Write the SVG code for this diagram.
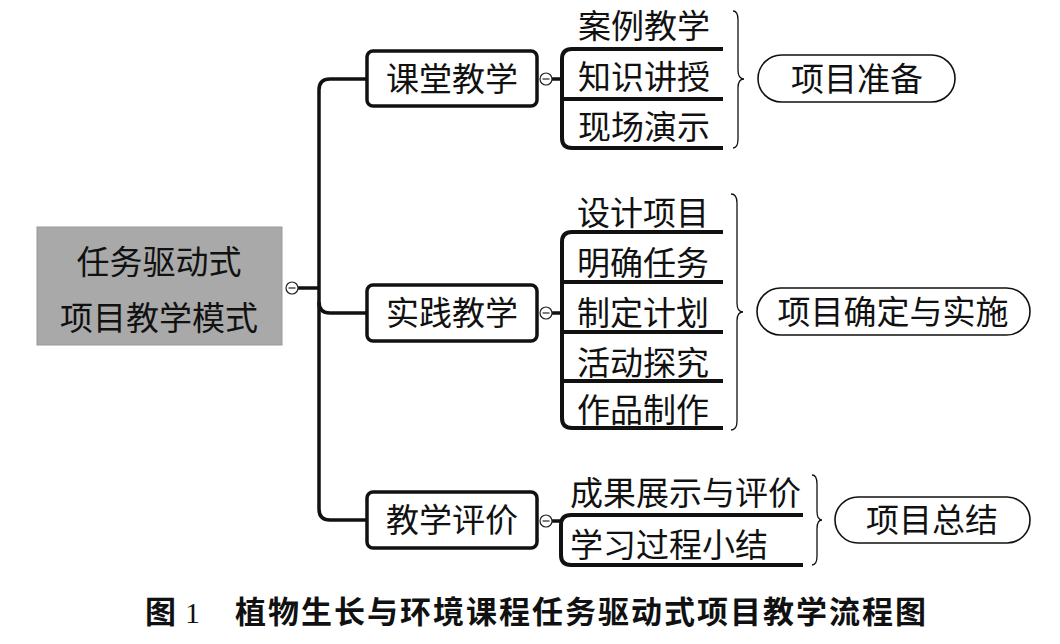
<svg xmlns="http://www.w3.org/2000/svg" width="1060" height="644" viewBox="0 0 1060 644">
<style>
text{font-family:"Noto Sans CJK SC","Noto Sans",sans-serif;font-size:33px;fill:#111}
.mid{text-anchor:middle}
.box{fill:#fff;stroke:#111;stroke-width:3.5}
.root{fill:#a9a9a9;stroke:#9a9a9a;stroke-width:1}
.pill{fill:#fff;stroke:#111;stroke-width:1.6}
.conn{fill:none;stroke:#111;stroke-width:3.5;stroke-linecap:butt}
.under{fill:none;stroke:#111;stroke-width:4}
.brace{fill:none;stroke:#111;stroke-width:1.3}
.tog{fill:#fff;stroke:#222;stroke-width:1.2}
.cap{font-weight:bold;font-size:31px}
</style>
<defs>
<g id="toggle"><circle class="tog" cx="0" cy="0" r="6"/><line x1="-3.5" y1="0" x2="3.5" y2="0" stroke="#222" stroke-width="1.2"/></g>
</defs>
<g id="connectors">
<path class="conn" d="M298,288 H319"/>
<path class="conn" d="M367,79 H330 Q319,79 319,90 V509 Q319,520 330,520 H367"/>
<path class="conn" d="M319,302 Q319,313 330,313 H367"/>
<path class="conn" d="M552,79 H562"/>
<path class="conn" d="M552,313 H562"/>
<path class="conn" d="M552,521 H561"/>
</g>
<g id="root">
<rect class="root" x="37" y="227" width="245" height="118"/>
<text class="mid" x="159" y="274">任务驱动式</text>
<text class="mid" x="159" y="330">项目教学模式</text>
<use href="#toggle" x="292" y="288"/>
</g>
<g id="n-ketang">
<rect class="box" x="367" y="51" width="170" height="55" rx="6"/>
<text class="mid" x="452" y="91">课堂教学</text>
<use href="#toggle" x="546" y="79"/>
</g>
<g id="n-shijian">
<rect class="box" x="367" y="285" width="170" height="56" rx="6"/>
<text class="mid" x="452" y="325">实践教学</text>
<use href="#toggle" x="546" y="313"/>
</g>
<g id="n-pingjia">
<rect class="box" x="367" y="492" width="170" height="56" rx="6"/>
<text class="mid" x="452" y="532">教学评价</text>
<use href="#toggle" x="546" y="521"/>
</g>
<g id="sub-ketang">
<path class="under" d="M723,49 H572 Q562,49 562,59 V138 Q562,148 572,148 H723 M562,99 H723"/>
<text x="578" y="38">案例教学</text>
<text x="578" y="89">知识讲授</text>
<text x="578" y="139">现场演示</text>
</g>
<g id="sub-shijian">
<path class="under" d="M723,232 H572 Q562,232 562,242 V418 Q562,428 572,428 H723 M562,282 H723 M562,332 H723 M562,381 H723"/>
<text x="577" y="225">设计项目</text>
<text x="577" y="275">明确任务</text>
<text x="577" y="325">制定计划</text>
<text x="577" y="375">活动探究</text>
<text x="577" y="422">作品制作</text>
</g>
<g id="sub-pingjia">
<path class="under" d="M803,515 H571 Q561,515 561,525 V555 Q561,565 571,565 H803"/>
<text x="570" y="505">成果展示与评价</text>
<text x="570" y="557">学习过程小结</text>
</g>
<g id="braces">
<path class="brace" d="M733,11 Q738,11 738,20 V70 Q738,79 744,79 Q738,79 738,88 V139 Q738,148 733,148"/>
<path class="brace" d="M731,194 Q737,194 737,203 V303 Q737,312 743,312 Q737,312 737,321 V421 Q737,430 731,430"/>
<path class="brace" d="M812,475 Q817,475 817,484 V511 Q817,520 822,520 Q817,520 817,529 V556 Q817,565 812,565"/>
</g>
<g id="p-zhunbei">
<rect class="pill" x="758" y="55" width="197" height="47" rx="23.5"/>
<text class="mid" x="857" y="91">项目准备</text>
</g>
<g id="p-shishi">
<rect class="pill" x="757" y="288" width="273" height="47" rx="23.5"/>
<text class="mid" x="893" y="324">项目确定与实施</text>
</g>
<g id="p-zongjie">
<rect class="pill" x="835" y="497" width="195" height="46" rx="23"/>
<text class="mid" x="932" y="532">项目总结</text>
</g>
<g id="caption">
<text class="cap" x="145" y="623">图</text>
<text x="185" y="623" style="font-family:'Liberation Serif',serif;font-size:30px">1</text>
<text class="cap" x="235" y="623" letter-spacing="2">植物生长与环境课程任务驱动式项目教学流程图</text>
</g>
</svg>
